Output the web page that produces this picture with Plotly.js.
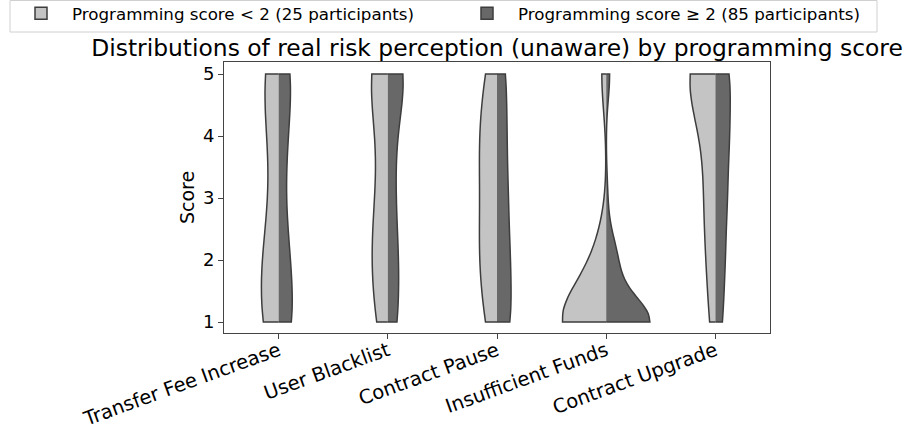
<!DOCTYPE html>
<html>
<head>
<meta charset="utf-8">
<script src="https://cdn.plot.ly/plotly-3.0.1.min.js"></script>
<style>html,body{margin:0;padding:0;background:#fff;}#chart{width:907px;height:434px;}</style>
</head>
<body>
<div id="chart"></div>
<script>
// ---- data ----
const categories = ["Transfer Fee Increase", "User Blacklist", "Contract Pause", "Insufficient Funds", "Contract Upgrade"];
const scoreLevels = [1, 2, 3, 4, 5];
const groupNames = ["Programming score < 2 (25 participants)", "Programming score \u2265 2 (85 participants)"];
// counts of answers at score 1..5, per category
const lowCounts = [
  [7, 6, 2, 3, 7],
  [4, 6, 4, 2, 9],
  [4, 6, 5, 6, 4],
  [19, 4, 0, 0, 2],
  [2, 3, 4, 3, 13]
];
const highCounts = [
  [24, 17, 9, 13, 22],
  [16, 16, 11, 11, 31],
  [22, 19, 16, 14, 14],
  [63, 15, 2, 0, 5],
  [11, 14, 17, 20, 23]
];

// ---- helpers ----
function expand(counts) {
  const out = [];
  counts.forEach((c, i) => { for (let k = 0; k < c; k++) out.push(scoreLevels[i]); });
  return out;
}
function scottBandwidth(vals) {
  const n = vals.length;
  const m = vals.reduce((a, b) => a + b, 0) / n;
  const v = vals.reduce((a, b) => a + (b - m) * (b - m), 0) / (n - 1);
  return Math.sqrt(v) * Math.pow(n, -0.2);
}

const groups = [
  {counts: lowCounts, side: 'negative', fill: '#c4c4c4', sg: 'low', legend: 'legend'},
  {counts: highCounts, side: 'positive', fill: '#686868', sg: 'high', legend: 'legend2'}
];

const traces = [];
groups.forEach((g, gi) => {
  categories.forEach((cat, ci) => {
    const ys = expand(g.counts[ci]);
    traces.push({
      type: 'violin',
      x: ys.map(() => cat),
      y: ys,
      name: groupNames[gi],
      legend: g.legend,
      legendgroup: g.sg,
      showlegend: ci === 0,
      side: g.side,
      scalegroup: g.sg,
      scalemode: 'width',
      spanmode: 'hard',
      bandwidth: scottBandwidth(ys),
      points: false,
      box: {visible: false},
      meanline: {visible: false},
      fillcolor: g.fill,
      opacity: 1,
      line: {color: '#3d3d3d', width: 1.5},
      hoverinfo: 'skip'
    });
  });
});

// pixel -> paper helpers for the legend frame (plot area: x 224..770, y 62..333)
const PL = 224, PW = 546, PB = 333, PH = 271;
const px = v => (v - PL) / PW;
const py = v => (PB - v) / PH;

const legendCommon = {
  orientation: 'h',
  xanchor: 'left',
  yanchor: 'top',
  font: {size: 16.7, color: '#000'},
  bgcolor: 'rgba(0,0,0,0)',
  borderwidth: 0,
  itemwidth: 52
};

const layout = {
  width: 907,
  height: 434,
  margin: {l: 224, r: 137, t: 62, b: 101, autoexpand: false},
  paper_bgcolor: '#ffffff',
  plot_bgcolor: '#ffffff',
  font: {family: 'DejaVu Sans, sans-serif', color: '#000'},
  violinmode: 'overlay',
  violingap: 0.2,
  violingroupgap: 0,
  showlegend: true,
  title: {
    text: 'Distributions of real risk perception (unaware) by programming score',
    font: {size: 23.4, color: '#000'},
    x: 0.5, xref: 'paper', xanchor: 'center',
    y: 1, yref: 'paper', yanchor: 'bottom',
    pad: {b: 6}
  },
  legend: Object.assign({}, legendCommon, {x: px(10), y: py(-4)}),
  legend2: Object.assign({}, legendCommon, {x: px(456), y: py(-4)}),
  shapes: [{
    type: 'rect', xref: 'paper', yref: 'paper',
    x0: px(10), x1: px(877), y0: py(32), y1: py(0.5),
    line: {color: '#d0d0d0', width: 1},
    fillcolor: '#ffffff',
    layer: 'above'
  }],
  xaxis: {
    type: 'category',
    categoryorder: 'array',
    categoryarray: categories,
    range: [-0.5, 4.5],
    showgrid: false,
    zeroline: false,
    showline: true,
    mirror: true,
    linecolor: '#444',
    linewidth: 1,
    ticks: 'outside',
    ticklen: 5,
    tickwidth: 1,
    tickcolor: '#444',
    tickangle: -20,
    ticklabelstandoff: -7,
    tickfont: {size: 19.5, color: '#000'},
    automargin: false
  },
  yaxis: {
    range: [0.823, 5.194],
    tickvals: scoreLevels,
    showgrid: false,
    zeroline: false,
    showline: true,
    mirror: true,
    linecolor: '#444',
    linewidth: 1,
    ticks: 'outside',
    ticklen: 5,
    tickwidth: 1,
    tickcolor: '#444',
    tickfont: {size: 18, color: '#000'},
    title: {text: 'Score', font: {size: 19, color: '#000'}, standoff: 3},
    automargin: false
  }
};

Plotly.newPlot('chart', traces, layout, {displayModeBar: false, staticPlot: true});
</script>
</body>
</html>
